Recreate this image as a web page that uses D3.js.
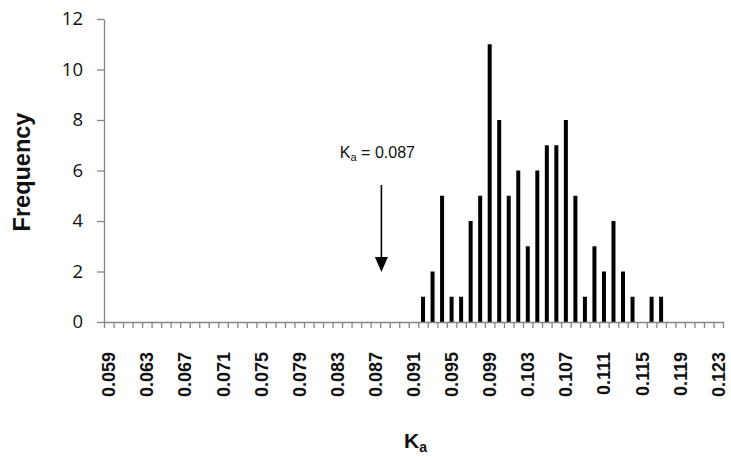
<!DOCTYPE html>
<html>
<head>
<meta charset="utf-8">
<script src="https://cdn.jsdelivr.net/npm/d3@7"></script>
<style>
  body { margin: 0; background: #fff; }
  svg { display: block; }
</style>
</head>
<body>
<div id="chart"></div>
<script>
// histogram bins (Ka values), one per 0.001
var bins = ["0.059","0.060","0.061","0.062","0.063","0.064","0.065","0.066","0.067","0.068",
            "0.069","0.070","0.071","0.072","0.073","0.074","0.075","0.076","0.077","0.078",
            "0.079","0.080","0.081","0.082","0.083","0.084","0.085","0.086","0.087","0.088",
            "0.089","0.090","0.091","0.092","0.093","0.094","0.095","0.096","0.097","0.098",
            "0.099","0.100","0.101","0.102","0.103","0.104","0.105","0.106","0.107","0.108",
            "0.109","0.110","0.111","0.112","0.113","0.114","0.115","0.116","0.117","0.118",
            "0.119","0.120","0.121","0.122","0.123"];

var counts = [0,0,0,0,0,0,0,0,0,0,
              0,0,0,0,0,0,0,0,0,0,
              0,0,0,0,0,0,0,0,0,0,
              0,0,0,1,2,5,1,1,4,5,
              11,8,5,6,3,6,7,7,8,5,
              1,3,2,4,2,1,0,1,1,0,
              0,0,0,0,0];

var labelBins = ["0.059","0.063","0.067","0.071","0.075","0.079","0.083","0.087","0.091",
                 "0.095","0.099","0.103","0.107","0.111","0.115","0.119","0.123"];
var yTicks = [0, 2, 4, 6, 8, 10, 12];
var markedKa = "0.087";

var W = 731, H = 457;
// plot box (note: "top" is reserved on window, so use other names)
var pLeft = 104, pRight = 723, pTop = 19, pBottom = 322;
var axisColor = "#868686";

var svg = d3.select("#chart").append("svg").attr("width", W).attr("height", H);

var x = d3.scaleBand().domain(bins).range([pLeft, pRight]);
var xi = d3.scaleLinear().domain([0, bins.length]).range([pLeft, pRight]); // bin edges for ticks
var y = d3.scaleLinear().domain([0, 12]).range([pBottom, pTop]);

// bars
svg.append("g")
    .selectAll("rect")
    .data(counts)
    .enter()
    .append("rect")
    .attr("x", (d, i) => x(bins[i]) + x.bandwidth() / 2 - 2)
    .attr("width", 4)
    .attr("y", d => y(d))
    .attr("height", d => pBottom - y(d))
    .attr("fill", "#000");

// y axis
var yAxis = svg.append("g")
    .attr("transform", "translate(" + pLeft + ",0)")
    .call(d3.axisLeft(y).tickValues(yTicks).tickSizeInner(7).tickSizeOuter(0).tickPadding(14));
yAxis.selectAll("path, line").attr("stroke", axisColor).attr("stroke-width", 1.3);
yAxis.selectAll("text")
    .attr("font-family", "'Open Sans', sans-serif")
    .attr("font-size", 18.5)
    .attr("fill", "#111");

// x axis: edge ticks
var xEdges = svg.append("g")
    .attr("transform", "translate(0," + pBottom + ")")
    .call(d3.axisBottom(xi).tickValues(d3.range(1, bins.length)).tickFormat("").tickSizeInner(6).tickSizeOuter(6));
xEdges.selectAll("path, line").attr("stroke", axisColor).attr("stroke-width", 1.3);

// x axis: rotated labels
var xLab = svg.append("g")
    .attr("transform", "translate(0," + pBottom + ")")
    .call(d3.axisBottom(x).tickValues(labelBins).tickSize(0));
xLab.select(".domain").remove();
xLab.selectAll("text")
    .attr("transform", "rotate(-90)")
    .attr("x", -30)
    .attr("y", 0)
    .attr("dy", "0.36em")
    .attr("text-anchor", "end")
    .attr("font-family", "'Liberation Sans', Arial, sans-serif")
    .attr("font-weight", "bold")
    .attr("font-size", 18)
    .attr("fill", "#111");

// axis titles
svg.append("text")
    .attr("transform", "translate(30,172) rotate(-90)")
    .attr("text-anchor", "middle")
    .attr("font-family", "'Liberation Sans', Arial, sans-serif")
    .attr("font-weight", "bold")
    .attr("font-size", 23.5)
    .attr("fill", "#111")
    .text("Frequency");

var xt = svg.append("text")
    .attr("x", (pLeft + pRight) / 2 + 2)
    .attr("y", 448)
    .attr("text-anchor", "middle")
    .attr("font-family", "'Liberation Sans', Arial, sans-serif")
    .attr("font-weight", "bold")
    .attr("font-size", 21)
    .attr("fill", "#111");
xt.append("tspan").text("K");
xt.append("tspan").attr("font-size", 14).attr("dy", 4).text("a");

// annotation arrow at Ka = 0.087
var ax = x(markedKa) + x.bandwidth() / 2 + 6;
var ann = svg.append("text")
    .attr("x", ax - 4)
    .attr("y", 158)
    .attr("text-anchor", "middle")
    .attr("font-family", "'Liberation Sans', Arial, sans-serif")
    .attr("font-size", 16)
    .attr("fill", "#111");
ann.append("tspan").text("K");
ann.append("tspan").attr("font-size", 11).attr("dy", 3).text("a");
ann.append("tspan").attr("dy", -3).text(" = 0.087");

svg.append("line")
    .attr("x1", ax).attr("x2", ax)
    .attr("y1", 185).attr("y2", 260)
    .attr("stroke", "#000")
    .attr("stroke-width", 1.6);
svg.append("path")
    .attr("d", d3.line()([[ax - 6.5, 257], [ax + 6.5, 257], [ax, 272]]) + "Z")
    .attr("fill", "#000");
</script>
</body>
</html>
